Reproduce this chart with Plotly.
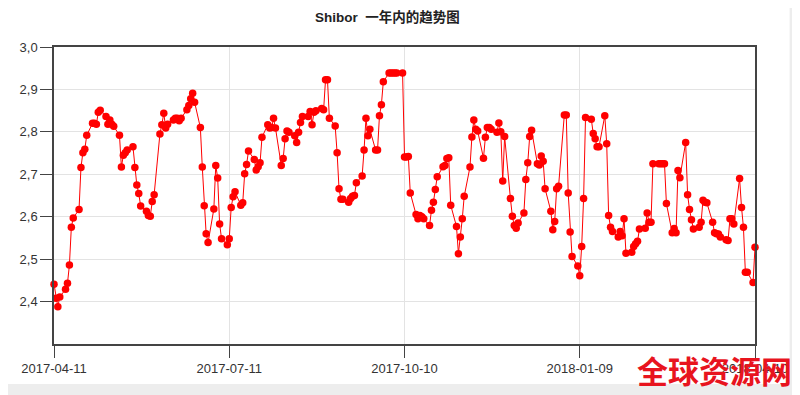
import pandas as pd
import plotly.graph_objects as go

# Shibor daily values (business days, holidays carried forward)
q1_values = [2.441, 2.408, 2.388, 2.411, 2.429, 2.443, 2.486, 2.575, 2.597, 2.617,
             2.716, 2.751, 2.759, 2.792, 2.820, 2.820, 2.818, 2.846, 2.851, 2.836,
             2.818, 2.828, 2.818, 2.813, 2.792, 2.717, 2.745, 2.751, 2.757, 2.765,
             2.716, 2.675, 2.655, 2.625, 2.613, 2.603, 2.601, 2.636, 2.652, 2.795,
             2.817, 2.844, 2.809, 2.818, 2.828, 2.832, 2.832, 2.826, 2.832, 2.852,
             2.862, 2.878, 2.891, 2.870, 2.810, 2.717, 2.626, 2.560, 2.539, 2.618,
             2.721, 2.691, 2.583, 2.548, 2.534]
q2_values = [2.548, 2.622, 2.647, 2.659, 2.627, 2.633, 2.701, 2.723, 2.755, 2.735,
             2.710, 2.718, 2.727, 2.787, 2.817, 2.809, 2.810, 2.832, 2.809, 2.721,
             2.737, 2.784, 2.802, 2.799, 2.791, 2.775, 2.799, 2.822, 2.836, 2.836,
             2.848, 2.817, 2.846, 2.850, 2.855, 2.852, 2.923, 2.923, 2.832, 2.814,
             2.751, 2.666, 2.641, 2.641, 2.634, 2.643, 2.648, 2.650, 2.680, 2.696,
             2.757, 2.832, 2.791, 2.806, 2.757, 2.757, 2.838, 2.864, 2.918, 2.939,
             2.939, 2.939, 2.939, 2.939, 2.939]
q3_values = [2.741, 2.741, 2.742, 2.656, 2.605, 2.595, 2.603, 2.600, 2.595, 2.579,
             2.615, 2.634, 2.664, 2.694, 2.718, 2.721, 2.737, 2.739, 2.627, 2.577,
             2.513, 2.552, 2.595, 2.648, 2.717, 2.788, 2.828, 2.806, 2.802, 2.738,
             2.787, 2.810, 2.810, 2.806, 2.799, 2.821, 2.800, 2.684, 2.789, 2.643,
             2.601, 2.579, 2.573, 2.585, 2.609, 2.688, 2.727, 2.789, 2.804, 2.725,
             2.722, 2.743, 2.731, 2.666, 2.613, 2.569, 2.589, 2.666, 2.672, 2.840,
             2.840, 2.656, 2.564, 2.506, 2.484]
q4_values = [2.461, 2.530, 2.643, 2.834, 2.830, 2.796, 2.784, 2.765, 2.765, 2.838,
             2.772, 2.603, 2.575, 2.565, 2.552, 2.565, 2.555, 2.595, 2.514, 2.516,
             2.530, 2.536, 2.542, 2.571, 2.573, 2.609, 2.587, 2.587, 2.725, 2.725,
             2.725, 2.725, 2.725, 2.631, 2.562, 2.572, 2.562, 2.709, 2.692, 2.775,
             2.652, 2.617, 2.593, 2.571, 2.575, 2.587, 2.639, 2.634, 2.633, 2.587,
             2.562, 2.560, 2.559, 2.552, 2.546, 2.544, 2.595, 2.595, 2.583, 2.690,
             2.622, 2.575, 2.469, 2.469, 2.445, 2.528]

values = q1_values + q2_values + q3_values + q4_values
dates = pd.bdate_range("2017-04-11", periods=len(values))

x_ticks = ["2017-04-11", "2017-07-11", "2017-10-10", "2018-01-09", "2018-04-10"]
y_ticks = [2.4, 2.5, 2.6, 2.7, 2.8, 2.9, 3.0]
title_text = "Shibor\u00a0 一年内的趋势图"
watermark = "全球资源网"

fig = go.Figure()
fig.add_trace(go.Scatter(
    x=dates, y=values, mode="lines+markers",
    line=dict(color="#ff0000", width=1),
    marker=dict(color="#ff0000", size=7.5),
    cliponaxis=False, showlegend=False, hoverinfo="x+y"))

font_main = "Liberation Sans, Arial, Noto Sans CJK SC, sans-serif"
# the page body adds an 8px margin, so the figure is 8px smaller than the window
W, H = 792, 387
fig.update_layout(
    width=W, height=H,
    margin=dict(l=44, r=40, t=39, b=51),
    paper_bgcolor="#ededed", plot_bgcolor="white",
    separators=",.",
    title=dict(text="<b>" + title_text + "</b>", x=0.479, xref="container",
               xanchor="center", y=0.977, yref="container", yanchor="middle",
               font=dict(family="Liberation Sans, Noto Sans CJK SC, sans-serif",
                         size=13.5, color="#222")),
    font=dict(family=font_main, size=13, color="#333"),
)
# white card behind the chart (the reference sits on a card with a grey shadow)
fig.add_shape(type="rect", xref="paper", yref="paper", layer="below",
              x0=-0.07, x1=1.0494, y0=-0.1347, y1=1.2,
              fillcolor="white", line=dict(width=0))
fig.update_xaxes(
    type="date", range=[x_ticks[0], x_ticks[-1]],
    tickvals=x_ticks, ticktext=x_ticks,
    showgrid=True, gridcolor="#e3e3e3", gridwidth=1,
    showline=True, linecolor="#444", linewidth=1.5, mirror=True,
    ticks="outside", ticklen=12, tickcolor="#444", tickwidth=1,
    tickfont=dict(size=13, color="#333"), zeroline=False,
)
fig.update_yaxes(
    range=[2.3, 3.0], tickvals=y_ticks, tickformat=".1f",
    showgrid=True, gridcolor="#e3e3e3", gridwidth=1,
    showline=True, linecolor="#444", linewidth=1.5, mirror=True,
    ticks="outside", ticklen=12, tickcolor="#444", tickwidth=1,
    tickfont=dict(size=13, color="#333"), zeroline=False,
)
fig.add_annotation(
    text="<b>" + watermark + "</b>", xref="paper", yref="paper",
    x=0.942, y=-0.0875, xanchor="center", yanchor="middle", showarrow=False,
    font=dict(family="Noto Sans CJK SC, sans-serif", size=31, color="#e8141e"),
)
fig.write_html("out.html")
